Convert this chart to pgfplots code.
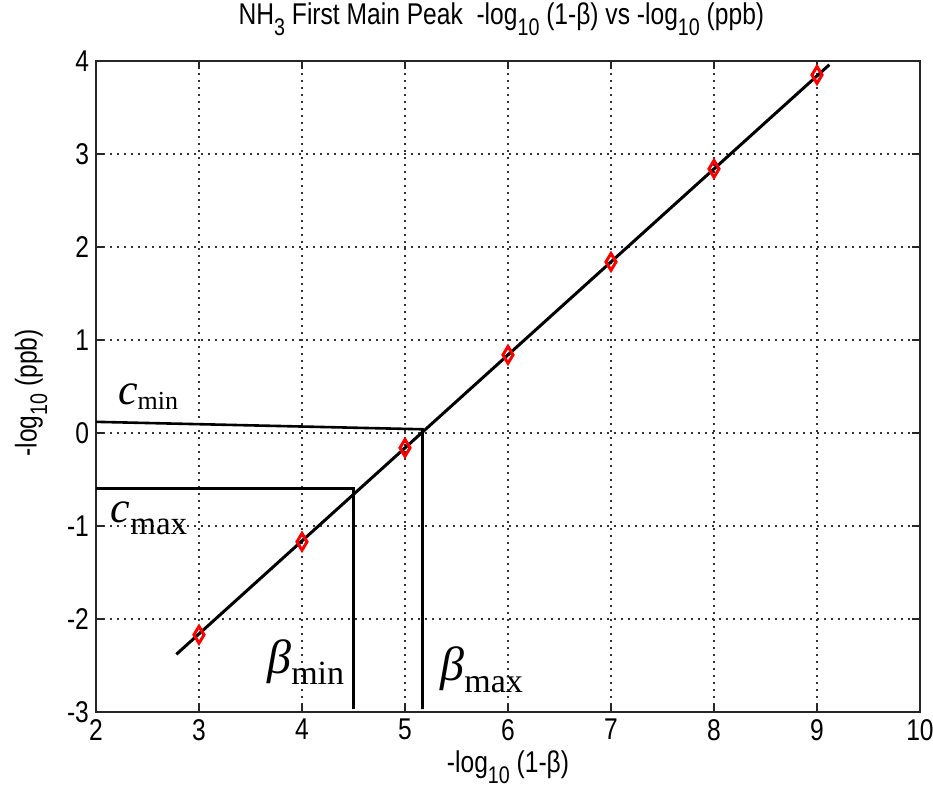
\documentclass[border=0pt]{standalone}
\usepackage{fontspec}
\setmainfont{Liberation Sans}[FakeStretch=0.82]
\newfontfamily\tnr{Liberation Serif}
\usepackage{pgfplots}
\pgfplotsset{compat=1.18}

% MATLAB-like lowered subscript
\newcommand{\sub}[1]{\raisebox{-0.35em}{\fontsize{12}{12}\selectfont #1}}

\begin{document}
\begin{tikzpicture}
\begin{axis}[
  name=ax,
  scale only axis,
  width=412pt, height=325.5pt,
  xmin=2, xmax=10, ymin=-3, ymax=4,
  xtick={2,...,10}, ytick={-3,...,4},
  grid=major,
  major grid style={black!80, line width=0.8pt, dash pattern=on 0.8pt off 2.7pt},
  axis line style={black!85, line width=0.9pt},
  tick style={black!85, line width=0.9pt},
  major tick length=4pt,
  tick align=inside,
  font=\fontsize{15}{18}\selectfont,
  /pgf/number format/assume math mode=true,
  clip=false,
  title={NH\sub{3} First Main Peak \ -log\sub{10} (1-β) vs -log\sub{10} (ppb)},
  title style={at={(rel axis cs:0.492,1.037)}, anchor=base, inner sep=0pt},
  xlabel={-log\sub{10} (1-β)},
  xlabel style={at={(rel axis cs:0.5,-0.093)}, anchor=base, inner sep=0pt},
  ylabel={-log\sub{10} (ppb)},
  ylabel style={at={(rel axis cs:-0.0788,0.49)}, anchor=center, inner sep=0pt},
]
  % measured points
  \addplot[only marks, mark=diamond, mark size=4.2pt,
    mark options={red, line width=1.5pt, xscale=0.8}]
    coordinates {(3,-2.17) (4,-1.17) (5,-0.16) (6,0.84) (7,1.84) (8,2.84) (9,3.85)};
  % linear fit
  \addplot[black, line width=1.5pt] coordinates {(2.78,-2.38) (9.12,3.96)};
  % read-off lines
  \addplot[black, line width=1.3pt] coordinates {(2,0.12) (5.17,0.04) (5.17,-2.97)};
  \addplot[black, line width=1.3pt] coordinates {(2,-0.60) (4.50,-0.60) (4.50,-2.97)};

  \node[anchor=base west, inner sep=0] at (axis cs:2.21,0.31)
    {{\tnr\fontsize{22}{22}\selectfont\itshape c}{\tnr\fontsize{13}{13}\selectfont\raisebox{-2.5pt}{min}}};
  \node[anchor=base west, inner sep=0] at (axis cs:2.14,-0.96)
    {{\tnr\fontsize{22}{22}\selectfont\itshape c}{\tnr\fontsize{16.5}{16.5}\selectfont\raisebox{-6pt}{max}}};
  \node[anchor=base west, inner sep=0] at (axis cs:3.66,-2.59)
    {{\tnr\fontsize{24}{24}\selectfont\itshape β}{\tnr\fontsize{17}{17}\selectfont\raisebox{-5.2pt}{min}}};
  \node[anchor=base west, inner sep=0] at (axis cs:5.34,-2.66)
    {{\tnr\fontsize{24}{24}\selectfont\itshape β}{\tnr\fontsize{17}{17}\selectfont\raisebox{-6pt}{max}}};
\end{axis}
\pgfresetboundingbox
\path ([shift={(-48pt,-37.5pt)}]ax.south west) rectangle ([shift={(6.5pt,30.5pt)}]ax.north east);
\end{tikzpicture}
\end{document}
